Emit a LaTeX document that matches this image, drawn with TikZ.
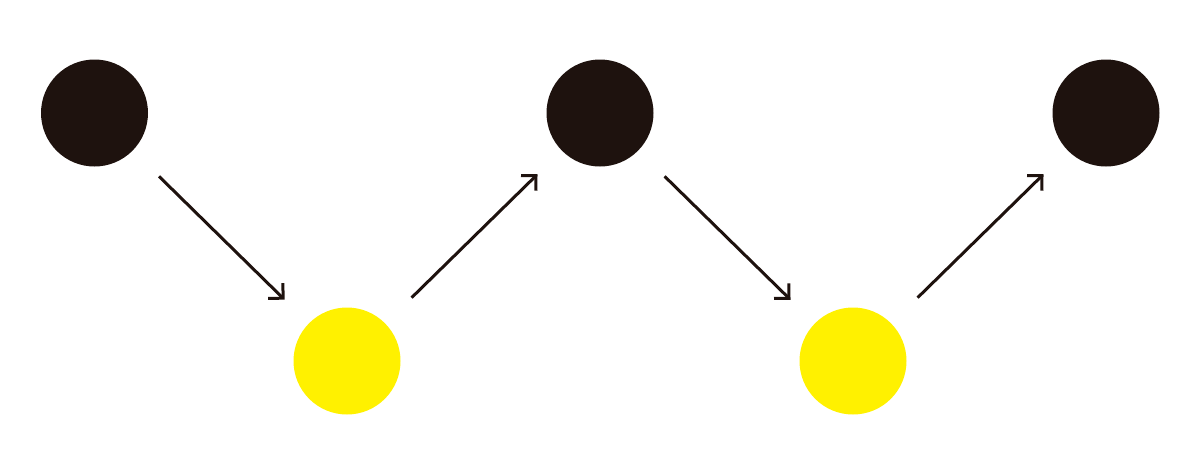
\documentclass[tikz,border=0pt]{standalone}
\usetikzlibrary{arrows.meta}
\definecolor{dotblack}{RGB}{30,18,14}
\definecolor{dotyellow}{RGB}{255,241,0}
\begin{document}
\begin{tikzpicture}[x=1pt,y=-1pt,
  blackdot/.style={circle,fill=dotblack,minimum size=107pt,inner sep=0pt,outer sep=0pt},
  yellowdot/.style={circle,fill=dotyellow,minimum size=107pt,inner sep=0pt,outer sep=0pt},
  link/.style={draw=dotblack,line width=3pt,-{Straight Barb[angle=90:15pt,line width=3pt]},shorten <=37pt,shorten >=34pt}]
\useasboundingbox (0,0) rectangle (1200,475);
\node[blackdot] (b1) at (94.5,113) {};
\node[yellowdot] (y1) at (347,361) {};
\node[blackdot] (b2) at (600,113) {};
\node[yellowdot] (y2) at (853,361) {};
\node[blackdot] (b3) at (1106,113) {};
\draw[link] (b1) -- (y1);
\draw[link] (y1) -- (b2);
\draw[link] (b2) -- (y2);
\draw[link] (y2) -- (b3);
\end{tikzpicture}
\end{document}
